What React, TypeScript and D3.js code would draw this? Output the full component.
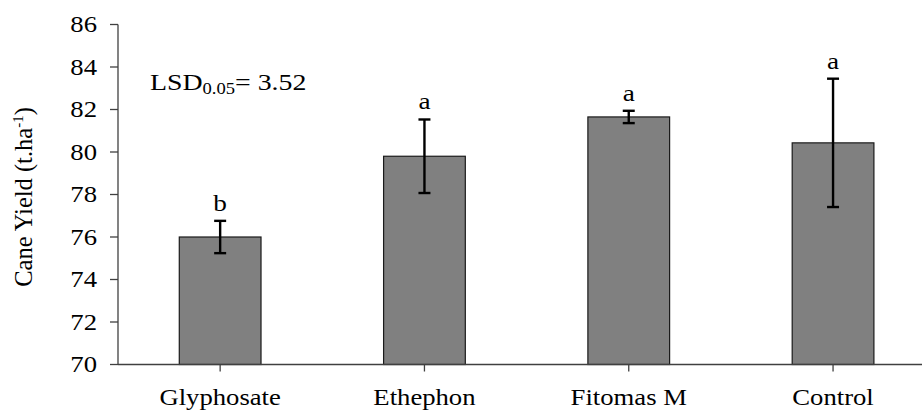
import { useEffect, useRef } from 'react';
import * as d3 from 'd3';

const treatments = ['Glyphosate', 'Ethephon', 'Fitomas M', 'Control'];
const yieldMeans = [76.0, 79.8, 81.65, 80.43];
const yieldErrors = [0.76, 1.73, 0.29, 3.02];
const groupLetters = ['b', 'a', 'a', 'a'];
const yTicks = [70, 72, 74, 76, 78, 80, 82, 84, 86];

const W = 922;
const H = 410;
const FONT = '"Liberation Serif", "Times New Roman", serif';
const SX = 1.16; // text in the reference is a bit stretched sideways

export default function App() {
  const svgRef = useRef<SVGSVGElement>(null);

  useEffect(() => {
    if (!svgRef.current) return;
    const svg = d3.select(svgRef.current);
    svg.selectAll('*').remove();

    const left = 118;
    const top = 24.5;
    const bottom = 364.5;

    const x = d3.scaleBand<string>()
      .domain(treatments)
      .range([left, left + 4 * 204.3])
      .paddingInner(0.6)
      .paddingOuter(0.3);

    const y = d3.scaleLinear().domain([70, 86]).range([bottom, top]);

    const stretchedText = (px: number, py: number, txt: string, size: number, anchor: string) =>
      svg.append('text')
        .attr('transform', `translate(${px},${py}) scale(${SX},1)`)
        .attr('text-anchor', anchor)
        .attr('font-family', FONT)
        .attr('font-size', size)
        .attr('fill', '#000')
        .text(txt);

    // bars
    treatments.forEach((t, i) => {
      svg.append('rect')
        .attr('x', x(t)!)
        .attr('y', y(yieldMeans[i]))
        .attr('width', x.bandwidth())
        .attr('height', y(70) - y(yieldMeans[i]))
        .attr('fill', '#808080')
        .attr('stroke', '#1a1a1a')
        .attr('stroke-width', 1.2);
    });

    // error bars + significance letters
    treatments.forEach((t, i) => {
      const cx = x(t)! + x.bandwidth() / 2;
      const hi = y(yieldMeans[i] + yieldErrors[i]);
      const lo = y(yieldMeans[i] - yieldErrors[i]);
      const g = svg.append('g').attr('stroke', '#000').attr('stroke-width', 2.4);
      g.append('line').attr('x1', cx).attr('x2', cx).attr('y1', hi).attr('y2', lo);
      g.append('line').attr('x1', cx - 6).attr('x2', cx + 6).attr('y1', hi).attr('y2', hi);
      g.append('line').attr('x1', cx - 6).attr('x2', cx + 6).attr('y1', lo).attr('y2', lo);
      stretchedText(cx, hi - 10, groupLetters[i], 23.5, 'middle');
    });

    // y axis
    svg.append('line')
      .attr('x1', left).attr('x2', left).attr('y1', top).attr('y2', bottom)
      .attr('stroke', '#404040').attr('stroke-width', 1.3);
    yTicks.forEach(v => {
      svg.append('line')
        .attr('x1', left - 8).attr('x2', left).attr('y1', y(v)).attr('y2', y(v))
        .attr('stroke', '#404040').attr('stroke-width', 1.3);
      stretchedText(97, y(v) + 7.8, String(v), 23, 'end');
    });

    // x axis
    svg.append('line')
      .attr('x1', left).attr('x2', W).attr('y1', bottom).attr('y2', bottom)
      .attr('stroke', '#404040').attr('stroke-width', 1.3);
    treatments.forEach(t => {
      const cx = x(t)! + x.bandwidth() / 2;
      svg.append('line')
        .attr('x1', cx).attr('x2', cx).attr('y1', bottom).attr('y2', bottom + 7)
        .attr('stroke', '#404040').attr('stroke-width', 1.3);
      stretchedText(cx, 405, t, 23, 'middle');
    });

    // y label
    const yl = svg.append('text')
      .attr('transform', 'translate(32,197) rotate(-90)')
      .attr('text-anchor', 'middle')
      .attr('font-family', FONT)
      .attr('font-size', 24.5)
      .attr('fill', '#000');
    yl.append('tspan').text('Cane Yield (t.ha');
    yl.append('tspan').attr('font-size', 15).attr('dy', -9).text('-1');
    yl.append('tspan').attr('dy', 9).text(')');

    // LSD annotation
    const lsd = svg.append('text')
      .attr('transform', `translate(150,90) scale(${SX},1)`)
      .attr('font-family', FONT)
      .attr('font-size', 24)
      .attr('fill', '#000');
    lsd.append('tspan').text('LSD');
    lsd.append('tspan').attr('font-size', 16).attr('dy', 4).text('0.05');
    lsd.append('tspan').attr('dy', -4).text('= 3.52');
  }, []);

  return (
    <svg
      ref={svgRef}
      width={W}
      height={H}
      style={{ position: 'absolute', left: 0, top: 0, background: '#fff' }}
    />
  );
}
